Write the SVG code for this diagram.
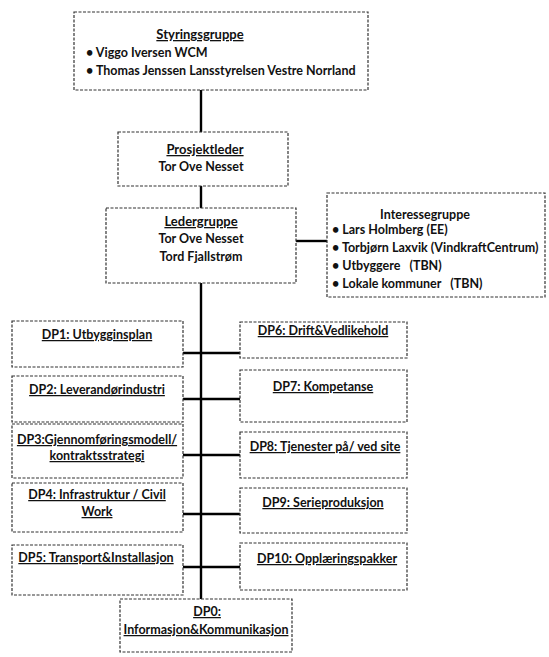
<svg xmlns="http://www.w3.org/2000/svg" width="549" height="657" viewBox="0 0 549 657">
<style>
.box{fill:#fff;stroke:#333;stroke-width:1.2;stroke-dasharray:3 1.5}
.t{font-family:Lato,"Liberation Sans",sans-serif;font-weight:bold;font-size:12.5px;fill:#111}
.d{font-size:12.5px;text-decoration:underline;text-anchor:middle}
.h{text-decoration:underline;font-size:13px}
.c{text-anchor:middle}
.ln{stroke:#000;stroke-width:2.4;fill:none}
</style>
<rect width="549" height="657" fill="#fff"/>
<g id="connectors">
<line class="ln" x1="201" y1="90" x2="201" y2="132"/>
<line class="ln" x1="201" y1="186" x2="201" y2="208"/>
<line class="ln" x1="201" y1="283" x2="201" y2="599"/>
<line class="ln" x1="296" y1="241" x2="327" y2="241"/>
<line class="ln" x1="183" y1="353" x2="240" y2="353"/>
<line class="ln" x1="183" y1="399" x2="240" y2="399"/>
<line class="ln" x1="183" y1="455" x2="240" y2="455"/>
<line class="ln" x1="183" y1="514" x2="240" y2="514"/>
<line class="ln" x1="183" y1="567" x2="240" y2="567"/>
</g>
<g id="styringsgruppe">
<rect class="box" x="74" y="12" width="294" height="78"/>
<text class="t h c" x="200" y="39">Styringsgruppe</text>
<text class="t" x="86" y="57">• Viggo Iversen WCM</text>
<text class="t" x="86" y="75">• Thomas Jenssen Lansstyrelsen Vestre Norrland</text>
</g>
<g id="prosjektleder">
<rect class="box" x="118" y="132" width="170" height="54"/>
<text class="t h c" x="205" y="154">Prosjektleder</text>
<text class="t c" x="201" y="171">Tor Ove Nesset</text>
</g>
<g id="ledergruppe">
<rect class="box" x="106" y="208" width="190" height="75"/>
<text class="t h c" x="201" y="226">Ledergruppe</text>
<text class="t c" x="201" y="243">Tor Ove Nesset</text>
<text class="t c" x="201" y="261">Tord Fjallstrøm</text>
</g>
<g id="interessegruppe">
<rect class="box" x="327" y="193" width="218" height="104"/>
<text class="t c" x="425" y="219" font-size="13.5">Interessegruppe</text>
<text class="t" x="332" y="234" font-size="12">• Lars Holmberg (EE)</text>
<text class="t" x="332" y="252" font-size="12">• Torbjørn Laxvik (VindkraftCentrum)</text>
<text class="t" x="332" y="270" font-size="12" xml:space="preserve">• Utbyggere   (TBN)</text>
<text class="t" x="332" y="288" font-size="12" xml:space="preserve">• Lokale kommuner   (TBN)</text>
</g>
<g id="dp1">
<rect class="box" x="12" y="321" width="171" height="46"/>
<text class="t d" x="97" y="339" font-size="11.5">DP1: Utbygginsplan</text>
</g>
<g id="dp2">
<rect class="box" x="12" y="376" width="171" height="46"/>
<text class="t d" x="97" y="394">DP2: Leverandørindustri</text>
</g>
<g id="dp3">
<rect class="box" x="12" y="424" width="171" height="54"/>
<text class="t d" x="97" y="444">DP3:Gjennomføringsmodell/</text>
<text class="t d" x="97" y="460">kontraktsstrategi</text>
</g>
<g id="dp4">
<rect class="box" x="12" y="483" width="171" height="49"/>
<text class="t d" x="97" y="499">DP4: Infrastruktur / Civil</text>
<text class="t d" x="97" y="516">Work</text>
</g>
<g id="dp5">
<rect class="box" x="12" y="545" width="171" height="50"/>
<text class="t d" x="96" y="562">DP5: Transport&amp;Installasjon</text>
</g>
<g id="dp6">
<rect class="box" x="240" y="322" width="167" height="36"/>
<text class="t d" x="323" y="335">DP6: Drift&amp;Vedlikehold</text>
</g>
<g id="dp7">
<rect class="box" x="240" y="370" width="167" height="52"/>
<text class="t d" x="323" y="391">DP7: Kompetanse</text>
</g>
<g id="dp8">
<rect class="box" x="240" y="432" width="167" height="46"/>
<text class="t d" x="325" y="451">DP8: Tjenester på/ ved site</text>
</g>
<g id="dp9">
<rect class="box" x="240" y="488" width="167" height="45"/>
<text class="t d" x="323" y="507">DP9: Serieproduksjon</text>
</g>
<g id="dp10">
<rect class="box" x="240" y="543" width="167" height="47"/>
<text class="t d" x="327" y="563">DP10: Opplæringspakker</text>
</g>
<g id="dp0">
<rect class="box" x="120" y="599" width="172" height="53"/>
<text class="t d" x="207" y="616">DP0:</text>
<text class="t d" x="206" y="634">Informasjon&amp;Kommunikasjon</text>
</g>
</svg>
